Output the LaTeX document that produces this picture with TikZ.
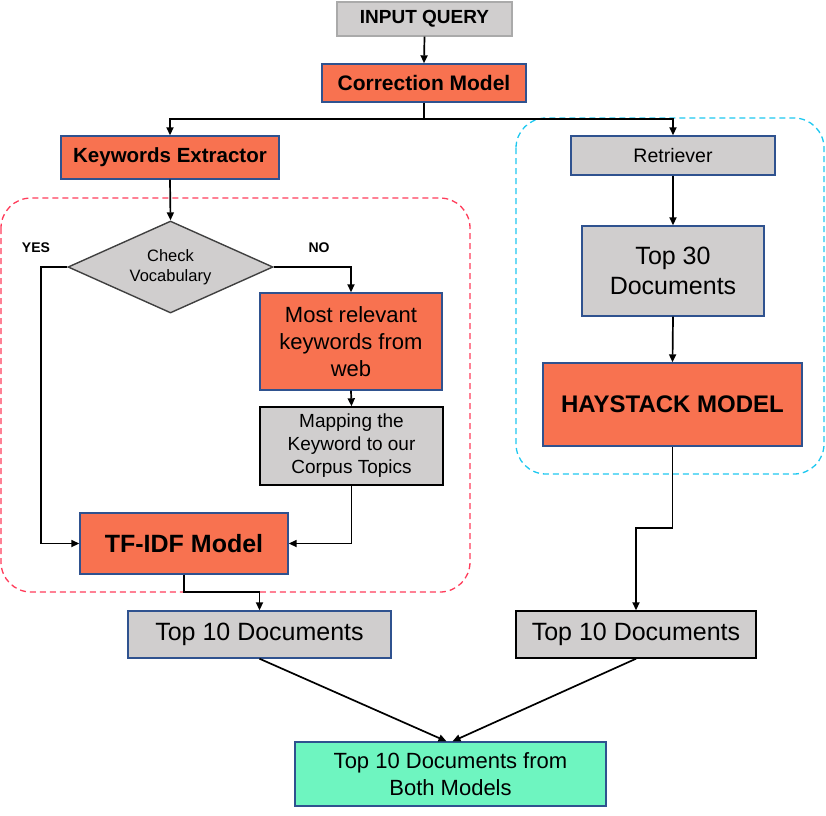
\documentclass[tikz,border=0pt]{standalone}
\usepackage{fontspec}
\setmainfont{Liberation Sans}
\usetikzlibrary{shapes.geometric,arrows.meta}
\definecolor{coral}{RGB}{248,114,80}
\definecolor{boxgray}{RGB}{208,206,206}
\definecolor{edgeblue}{RGB}{47,82,143}
\definecolor{mint}{RGB}{110,245,192}
\definecolor{dashred}{RGB}{255,60,90}
\definecolor{dashcyan}{RGB}{30,200,240}
\definecolor{lightedge}{RGB}{170,170,170}
\newcommand{\fs}[2]{\fontsize{#1}{#2}\selectfont}
\tikzset{
 box/.style={draw=edgeblue, line width=1.4pt, inner sep=0pt, align=center, text=black},
 graybox/.style={box, fill=boxgray},
 coralbox/.style={box, fill=coral},
 arr/.style={line width=1.7pt, -{Triangle[length=8pt,width=7pt]}},
 ln/.style={line width=1.7pt},
 region/.style={line width=1.3pt, dashed, dash pattern=on 6pt off 4pt, rounded corners=30pt},
}
\begin{document}
\begin{tikzpicture}[x=1pt,y=-1pt]
\useasboundingbox (0,0) rectangle (826,815);
% regions
\draw[region, draw=dashred] (1,198) rectangle (470,592);
\draw[region, draw=dashcyan] (516,118) rectangle (824,474);
% nodes
\node[graybox, draw=lightedge, minimum width=175pt, minimum height=34pt, font=\fs{19}{23}\bfseries] (inq) at (424.5,19) {INPUT QUERY};
\node[coralbox, minimum width=204pt, minimum height=38pt, font=\fs{21}{25}\bfseries] (corr) at (424,83) {Correction Model};
\node[coralbox, minimum width=218pt, minimum height=43pt, font=\fs{20.5}{25}\bfseries] (kw) at (170,157.5) {Keywords Extractor};
\node[diamond, aspect=2.23, draw=black!75, fill=boxgray, line width=1.4pt, inner sep=0pt, minimum width=205pt, minimum height=92pt, align=center, font=\fs{16.5}{20}] (chk) at (170.5,267) {Check\\Vocabulary};
\node[font=\fs{14}{17}\bfseries] (yes) at (36,248) {YES};
\node[font=\fs{14}{17}\bfseries] (no) at (319,248) {NO};
\node[coralbox, minimum width=182pt, minimum height=97pt, font=\fs{22}{27}] (most) at (351,341.5) {Most relevant\\keywords from\\web};
\node[graybox, draw=black, minimum width=183pt, minimum height=78pt, font=\fs{19}{23}] (map) at (351.5,446) {Mapping the\\Keyword to our\\Corpus Topics};
\node[coralbox, minimum width=208pt, minimum height=61pt, font=\fs{25}{30}\bfseries] (tfidf) at (184,543.5) {TF-IDF Model};
\node[graybox, minimum width=263pt, minimum height=47pt, font=\fs{25}{30}] (topl) at (259.5,634.5) {Top 10 Documents};
\node[graybox, minimum width=204pt, minimum height=39pt, font=\fs{19.5}{23}] (ret) at (673,155.5) {Retriever};
\node[graybox, minimum width=182pt, minimum height=90pt, font=\fs{25}{30}] (top30) at (673,271) {Top 30\\Documents};
\node[coralbox, minimum width=259pt, minimum height=83pt, font=\fs{24}{29}\bfseries] (hay) at (672.5,404.5) {HAYSTACK MODEL};
\node[graybox, draw=black, minimum width=240pt, minimum height=47pt, font=\fs{25}{30}] (topr) at (636,634.5) {Top 10 Documents};
\node[box, fill=mint, minimum width=311pt, minimum height=64pt, font=\fs{22}{27}] (fin) at (450.5,774) {Top 10 Documents from\\Both Models};
% helper coordinates
\coordinate (split) at (424,119);
\coordinate (yesx) at (41,267);
\coordinate (tfjoin) at (184,592);
\coordinate (hayjoin) at (672.5,528);
% connectors
\draw[arr] (inq.south) -- (corr.north);
\draw[ln] (corr.south) -- (split);
\draw[arr] (split) -| (kw.north);
\draw[arr] (split) -| (ret.north);
\draw[arr] (kw.south) -- (chk.north);
\draw[arr] (chk.west) -- (yesx) |- (tfidf.west);
\draw[arr] (chk.east) -| (most.north);
\draw[arr] (most.south) -- (map.north);
\draw[arr] (map.south) |- (tfidf.east);
\draw[arr] (tfidf.south) -- (tfjoin) -| (topl.north);
\draw[arr] (ret.south) -- (top30.north);
\draw[arr] (top30.south) -- (hay.north);
\draw[arr] (hay.south) -- (hayjoin) -| (topr.north);
\draw[arr] (topl.south) -- ([xshift=-4pt]fin.north);
\draw[arr] (topr.south) -- ([xshift=2pt]fin.north);
\end{tikzpicture}
\end{document}
